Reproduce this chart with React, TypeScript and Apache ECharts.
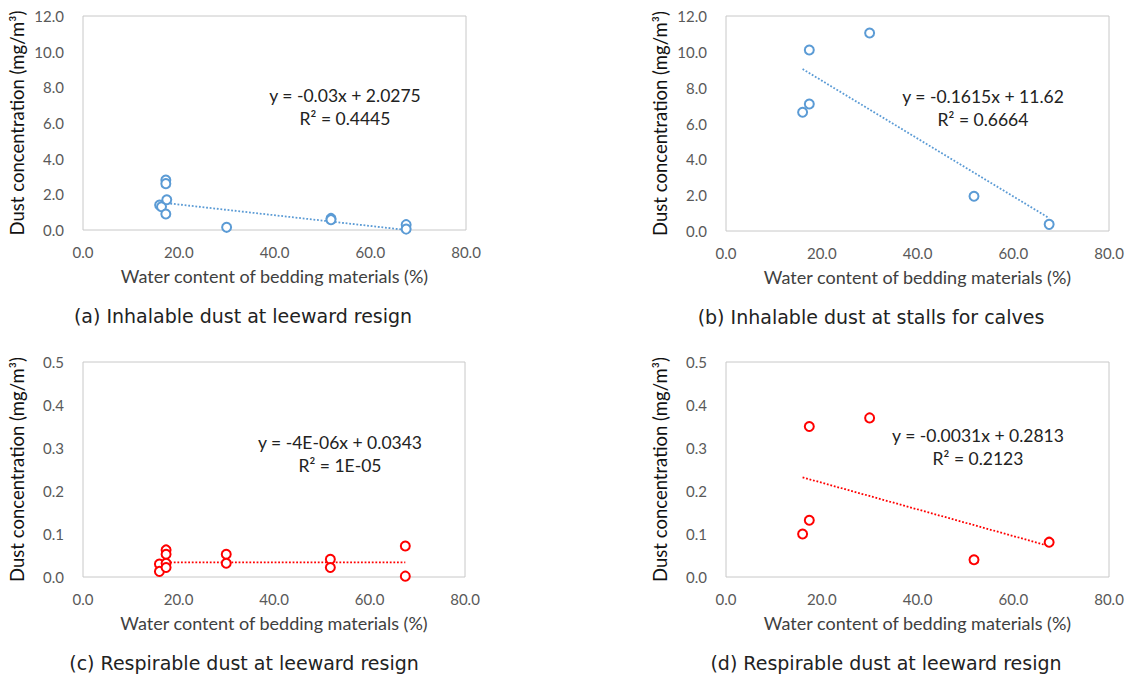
import React, { useEffect, useRef } from "react";
import * as echarts from "echarts";

// ---- data ----
const xTickLabels = ["0.0", "20.0", "40.0", "60.0", "80.0"];

// (a) Inhalable dust at leeward resign
const panelA: number[][] = [
  [16.0, 1.4], [16.4, 1.3], [17.3, 2.8], [17.3, 2.6], [17.5, 1.7], [17.3, 0.9],
  [30.0, 0.15], [51.8, 0.65], [51.8, 0.58], [67.5, 0.3], [67.5, 0.05],
];
const trendA: number[][] = [[16.0, 1.55], [67.5, 0.0025]];

// (b) Inhalable dust at stalls for calves
const panelB: number[][] = [
  [16.0, 6.63], [17.4, 7.09], [17.4, 10.1], [30.0, 11.05], [51.8, 1.94], [67.5, 0.37],
];
const trendB: number[][] = [[16.0, 9.04], [67.5, 0.72]];

// (c) Respirable dust at leeward resign
const panelC: number[][] = [
  [16.0, 0.03], [16.0, 0.013], [17.4, 0.063], [17.4, 0.053], [17.4, 0.032], [17.4, 0.022],
  [30.0, 0.053], [30.0, 0.032], [51.8, 0.041], [51.8, 0.022], [67.5, 0.072], [67.5, 0.002],
];
const trendC: number[][] = [[16.0, 0.0342], [67.5, 0.034]];

// (d) Respirable dust at leeward resign
const panelD: number[][] = [
  [16.0, 0.10], [17.4, 0.132], [17.4, 0.35], [30.0, 0.37], [51.8, 0.04], [67.5, 0.081],
];
const trendD: number[][] = [[16.0, 0.2317], [67.5, 0.072]];

const equations = [
  ["y = -0.03x + 2.0275", "R² = 0.4445"],
  ["y = -0.1615x + 11.62", "R² = 0.6664"],
  ["y = -4E-06x + 0.0343", "R² = 1E-05"],
  ["y = -0.0031x + 0.2813", "R² = 0.2123"],
];
const captions = [
  "(a) Inhalable dust at leeward resign",
  "(b) Inhalable dust at stalls for calves",
  "(c) Respirable dust at leeward resign",
  "(d) Respirable dust at leeward resign",
];

const BLUE = "#5b9bd5";
const RED = "#ff0000";
const FONT = "Lato, 'Open Sans', sans-serif";

export default function App() {
  const ref = useRef<HTMLDivElement>(null);
  useEffect(() => {
    if (!ref.current) return;
    const chart = echarts.init(ref.current, undefined, { renderer: "svg" });

    const grids = [
      { left: 83, top: 16, width: 383, height: 214 },
      { left: 726, top: 16, width: 383, height: 215 },
      { left: 83, top: 362, width: 382, height: 215 },
      { left: 726, top: 362, width: 383, height: 215 },
    ].map((g) => ({ ...g, show: true, borderColor: "#c8c8c8", borderWidth: 1, backgroundColor: "transparent" }));

    const xAxis = grids.map((_, i) => ({
      type: "value",
      gridIndex: i,
      min: 0,
      max: 80,
      interval: 20,
      name: "Water content of bedding materials (%)",
      nameLocation: "middle",
      nameGap: 37,
      nameTextStyle: { fontFamily: FONT, fontSize: 18, color: "#404040" },
      axisLine: { show: false },
      axisTick: { show: false },
      splitLine: { show: false },
      axisLabel: {
        fontFamily: FONT,
        fontSize: 15,
        color: "#595959",
        margin: 14,
        formatter: (v: number) => xTickLabels[Math.round(v / 20)],
      },
    }));

    const yAxis = grids.map((_, i) => {
      const big = i < 2;
      return {
        type: "value",
        gridIndex: i,
        min: 0,
        max: big ? 12 : 0.5,
        interval: big ? 2 : 0.1,
        name: "Dust concentration (mg/m³)",
        nameLocation: "middle",
        nameGap: 57,
        nameTextStyle: { fontFamily: FONT, fontSize: 18.5, color: "#111" },
        axisLine: { show: false },
        axisTick: { show: false },
        splitLine: { show: false },
        axisLabel: {
          fontFamily: FONT,
          fontSize: 15,
          color: "#595959",
          margin: 19,
          formatter: (v: number) => v.toFixed(1),
        },
      };
    });

    const scatters = [panelA, panelB, panelC, panelD];
    const trends = [trendA, trendB, trendC, trendD];
    const colors = [BLUE, BLUE, RED, RED];
    const series: any[] = [];
    scatters.forEach((d, i) => {
      series.push({
        type: "line",
        xAxisIndex: i,
        yAxisIndex: i,
        data: trends[i],
        symbol: "none",
        lineStyle: { color: colors[i], width: 1.8, type: [1.8, 1.8] },
        z: 2,
      });
      series.push({
        type: "scatter",
        xAxisIndex: i,
        yAxisIndex: i,
        data: d,
        symbol: "circle",
        symbolSize: 9,
        itemStyle: { color: "#fff", borderColor: colors[i], borderWidth: 2, opacity: 1 },
        z: 3,
      });
    });

    const eqPos = [
      [345, 95],
      [983, 96],
      [340, 442],
      [978, 435],
    ];
    const capPos = [
      [243, 316],
      [871, 317],
      [244, 663],
      [886, 663],
    ];
    const graphic: any[] = [];
    equations.forEach((lines, i) => {
      lines.forEach((t, k) => {
        graphic.push({
          type: "text",
          x: eqPos[i][0],
          y: eqPos[i][1] + k * 23,
          style: {
            text: t,
            fontFamily: FONT,
            fontSize: 17.5,
            fill: "#222",
            textAlign: "center",
            textVerticalAlign: "middle",
          },
          z: 10,
        });
      });
    });
    captions.forEach((t, i) => {
      graphic.push({
        type: "text",
        x: capPos[i][0],
        y: capPos[i][1],
        style: {
          text: t,
          fontFamily: "'DejaVu Sans', sans-serif",
          fontSize: 19,
          fill: "#222",
          textAlign: "center",
          textVerticalAlign: "middle",
        },
      });
    });

    chart.setOption({
      animation: false,
      backgroundColor: "#fff",
      grid: grids,
      xAxis,
      yAxis,
      series,
      graphic,
    });
    return () => chart.dispose();
  }, []);
  return (
    <div
      ref={ref}
      style={{ position: "fixed", left: 0, top: 0, width: 1130, height: 676 }}
    />
  );
}
